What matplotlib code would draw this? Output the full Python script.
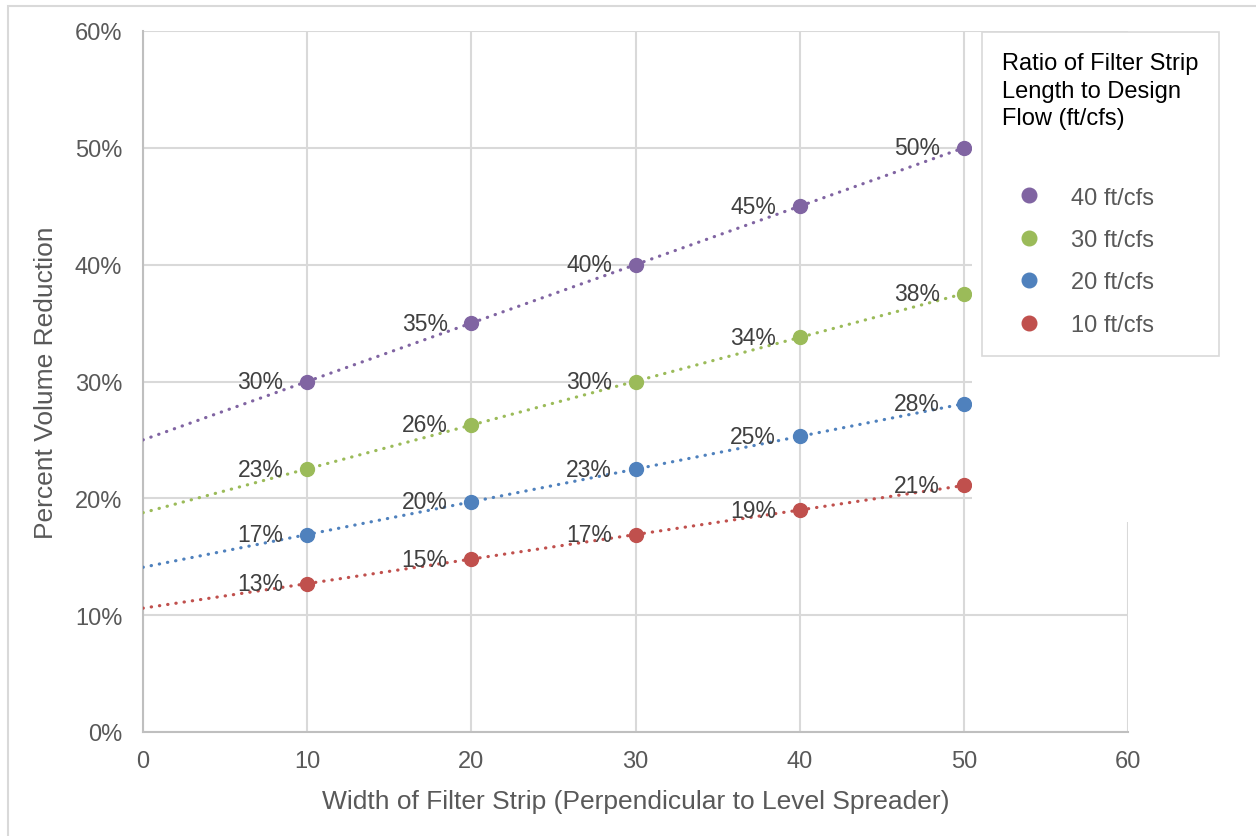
import numpy as np
import matplotlib.pyplot as plt
from matplotlib.lines import Line2D
from matplotlib.patches import Rectangle

plt.rcParams['font.family'] = ['Liberation Sans', 'DejaVu Sans']

# Data
widths = [10, 20, 30, 40, 50]
series_names = ['40 ft/cfs', '30 ft/cfs', '20 ft/cfs', '10 ft/cfs']
ratio_40 = [30.0, 35.0, 40.0, 45.0, 50.0]
ratio_30 = [22.5, 26.3, 30.0, 33.8, 37.5]
ratio_20 = [16.9, 19.7, 22.5, 25.3, 28.1]
ratio_10 = [12.7, 14.8, 16.9, 19.0, 21.1]
labels_40 = ['30%', '35%', '40%', '45%', '50%']
labels_30 = ['23%', '26%', '30%', '34%', '38%']
labels_20 = ['17%', '20%', '23%', '25%', '28%']
labels_10 = ['13%', '15%', '17%', '19%', '21%']

colors = ['#8064A2', '#9BBB59', '#4F81BD', '#C0504D']
series = [ratio_40, ratio_30, ratio_20, ratio_10]
point_labels = [labels_40, labels_30, labels_20, labels_10]

W, H = 1256, 837
fig = plt.figure(figsize=(W / 100, H / 100), dpi=100)
ax = fig.add_axes([143 / W, 1 - 733 / H, (1128 - 143) / W, (733 - 32) / H])

handles = []
for vals, labs, c, name in zip(series, point_labels, colors, series_names):
    # linear trendline, extended back to zero like the Excel chart
    slope, icpt = np.polyfit(widths, vals, 1)
    xt = np.array([0, widths[-1]])
    ax.plot(xt, slope * xt + icpt, color=c, lw=2.3, linestyle=(0, (0.1, 2.5)),
            dash_capstyle='round', zorder=3)
    ax.plot(widths, vals, 'o', color=c, markersize=10, zorder=4)
    for x, y, t in zip(widths, vals, labs):
        ax.annotate(t, (x, y), xytext=(-17, 0), textcoords='offset points',
                    ha='right', va='center', fontsize=16.5, color='#404040', zorder=5)
    handles.append(Line2D([], [], marker='o', color=c, linestyle='none', markersize=10.5))

ax.set_xlim(0, 60)
ax.set_ylim(0, 60)
ax.set_xticks(range(0, 61, 10))
ax.set_yticks(range(0, 61, 10))
ax.set_yticklabels([f'{v}%' for v in range(0, 61, 10)])
ax.tick_params(length=0, labelsize=17, labelcolor='#595959')
ax.tick_params(axis='y', pad=15)
ax.tick_params(axis='x', pad=13)
ax.grid(True, color='#D9D9D9', lw=1.5)
ax.set_axisbelow(True)
for s in ['top', 'right']:
    ax.spines[s].set_visible(False)
for s in ['left', 'bottom']:
    ax.spines[s].set_color('#BFBFBF')
    ax.spines[s].set_linewidth(1.5)

ax.set_xlabel('Width of Filter Strip (Perpendicular to Level Spreader)',
              fontsize=19, color='#595959', labelpad=12)
ax.set_ylabel('Percent Volume Reduction', fontsize=19, color='#595959', labelpad=12)

# white patch left over behind the legend in the original
fig.patches.append(Rectangle((972 / W, 1 - 523 / H), (1140 - 972) / W, (523 - 47) / H,
                             transform=fig.transFigure, facecolor='white',
                             edgecolor='none', zorder=2))

leg = fig.legend(handles, series_names,
                 title='Ratio of Filter Strip\nLength to Design\nFlow (ft/cfs)\n',
                 loc='upper left', bbox_to_anchor=(982 / W, 1 - 33 / H),
                 bbox_transform=fig.transFigure, fontsize=17, title_fontsize=17,
                 alignment='left', frameon=True, fancybox=False, framealpha=1,
                 edgecolor='#D9D9D9', handlelength=2.32, handletextpad=0.6,
                 labelspacing=0.865, borderpad=0.85, borderaxespad=0)
leg.get_frame().set_linewidth(1.2)
leg.get_title().set_linespacing(1.32)
leg._legend_box.sep += 7
for t in leg.get_texts():
    t.set_color('#595959')
leg.get_title().set_color('black')
leg.set_zorder(10)

# outer chart border
fig.patches.append(Rectangle((8 / W, -0.1), 1.2, 1 - 7 / H + 0.1,
                             transform=fig.transFigure, facecolor='none',
                             edgecolor='#D9D9D9', lw=1.5))

fig.savefig('out.png', dpi=100)
